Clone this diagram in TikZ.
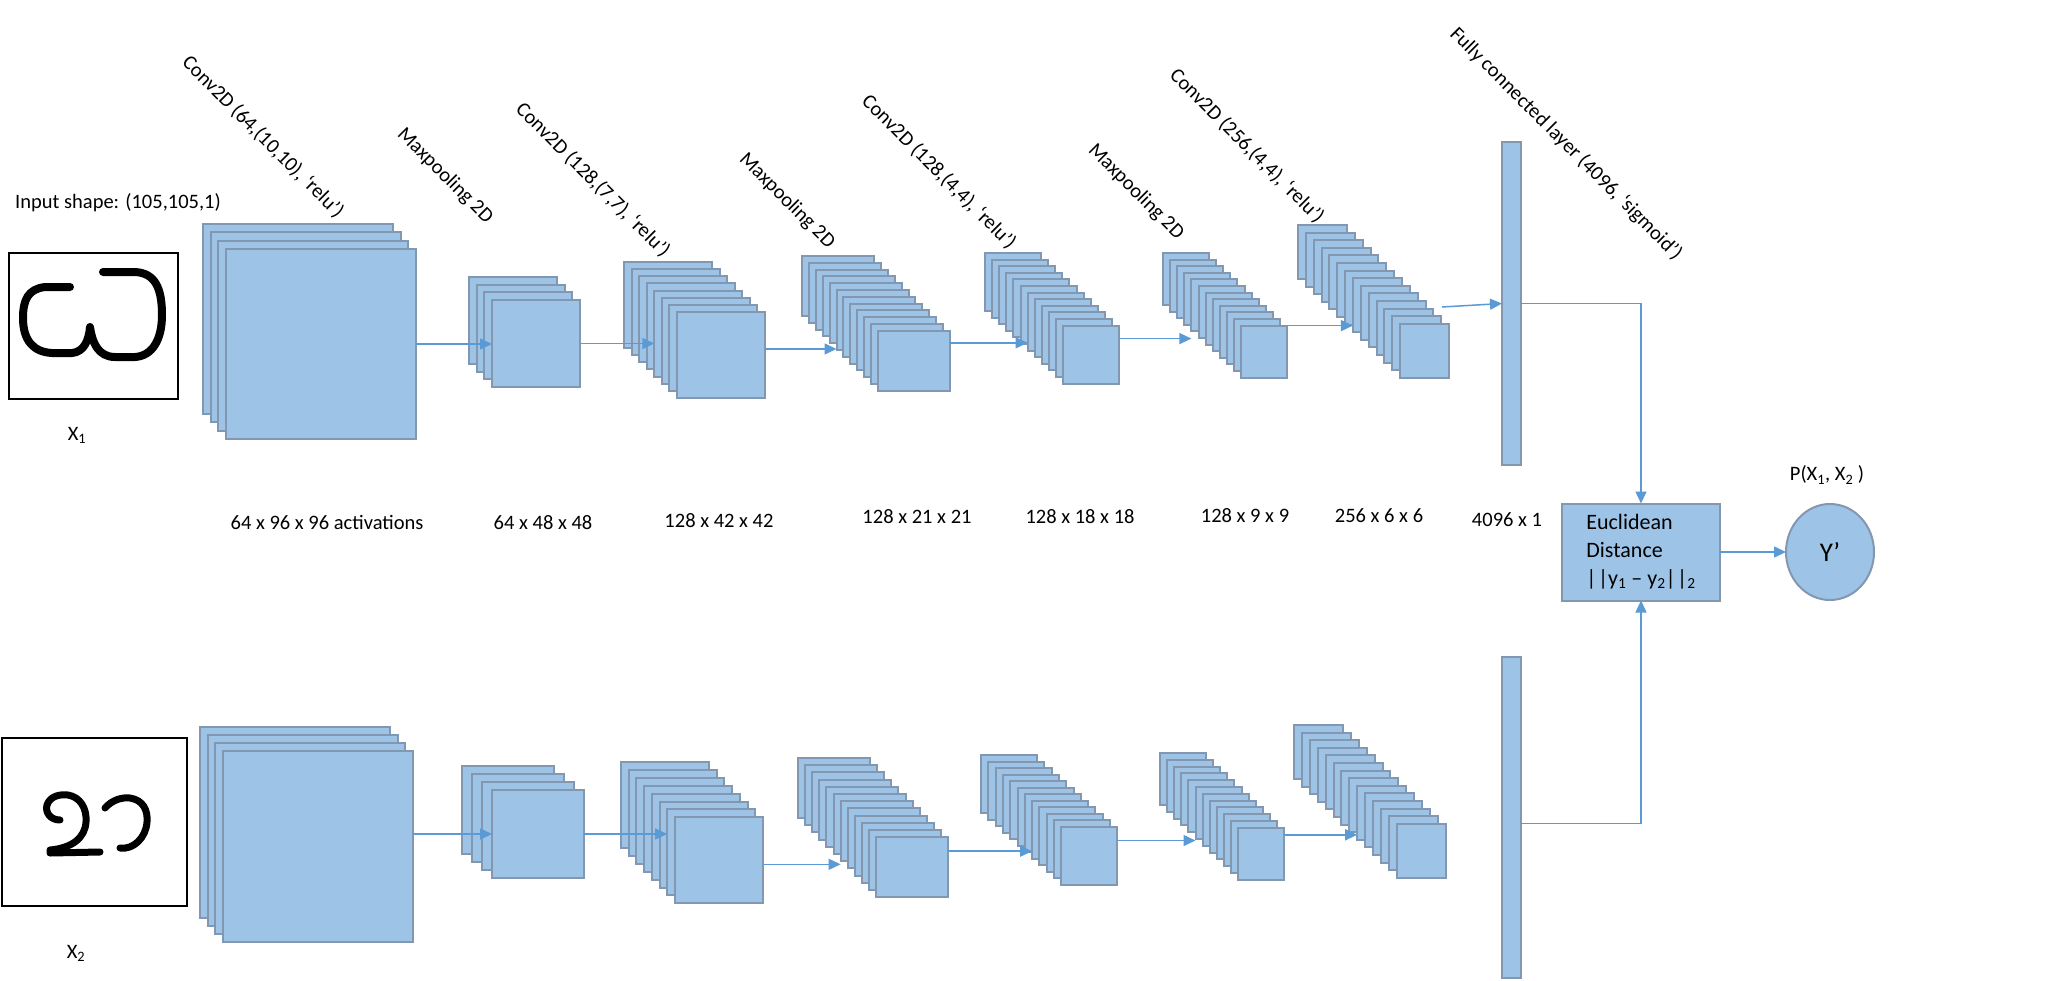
\documentclass[tikz,border=0pt]{standalone}
\usepackage{fontspec}
\setmainfont{Carlito}
\usetikzlibrary{arrows.meta,shapes.geometric}
\definecolor{lfill}{HTML}{9DC3E6}
\definecolor{ledge}{HTML}{8497B0}
\definecolor{aline}{HTML}{5B9BD5}
\newcommand\drawstack[8]{%
  \foreach \i in {1,...,#8}{%
    \node[layer, minimum width=#6, minimum height=#7] (#1l\i) at ({#2+(\i-1)*#4+#6/2},{#3+(\i-1)*#5+#7/2}) {};
  }}
\begin{document}
\begin{tikzpicture}[x=1pt,y=-1pt,
  layer/.style={draw=ledge, fill=lfill, line width=2pt, inner sep=0pt, outer sep=0pt},
  arr/.style={draw=aline, line width=1.5pt, -{Triangle[length=12pt,width=11pt]}},
  conn/.style={draw=aline, line width=1.5pt},
  lab/.style={font=\fontsize{20.5}{25}\selectfont, inner sep=0pt},
  rlab/.style={lab, rotate=-45},
  inbox/.style={draw=black, line width=2.5pt, fill=white, inner sep=0pt},
  glyph/.style={line width=8pt, line cap=round, line join=round}]
\useasboundingbox (0,0) rectangle (2071,980);
\fill[white] (0,0) rectangle (2071,980);

% ---------- inputs ----------
\node[inbox, minimum width=169, minimum height=146] (in1) at (93.5,326) {};
\node[inbox, minimum width=185, minimum height=168] (in2) at (94.5,822) {};
\draw[glyph] (70,287) -- (45,287) .. controls (28,289) and (23,300) .. (23,318)
  .. controls (23,340) and (33,352) .. (52,353) -- (72,353)
  .. controls (84,352) and (89,340) .. (90,327)
  .. controls (92,342) and (98,357) .. (115,357) -- (135,357)
  .. controls (152,356) and (162,340) .. (162,315)
  .. controls (162,288) and (155,273) .. (135,272) -- (103,272);
\draw[glyph, line width=7pt] (60,820) .. controls (50,820) and (45,812) .. (47,805)
  .. controls (50,796) and (60,794) .. (68,795)
  .. controls (80,797) and (87,808) .. (86,822)
  .. controls (85,838) and (72,848) .. (50,850) -- (50,853) -- (100,852);
\draw[glyph, line width=7pt] (105,808) .. controls (112,800) and (122,797) .. (130,798)
  .. controls (143,800) and (148,810) .. (147,822)
  .. controls (146,838) and (133,850) .. (120,848);
\node[lab, anchor=west] (inshape) at (15,203) {Input shape: (105,105,1)};
\node[lab] (x1) at (77,435) {X\textsubscript{1}};
\node[lab] (x2) at (76,953) {X\textsubscript{2}};

% ---------- top branch ----------
\drawstack{s1}{203}{224}{7.67}{8.33}{190}{190}{4}
\drawstack{s2}{469}{277}{7.67}{7.67}{88}{87}{4}
\drawstack{s3}{624}{262}{7.57}{7.14}{88}{86}{8}
\drawstack{s4}{802}{256}{6.9}{6.8}{72}{60}{12}
\drawstack{s5}{985}{253}{7.1}{6.6}{56}{58}{12}
\drawstack{s6}{1163}{253}{7.1}{6.6}{46}{52}{12}
\drawstack{s7}{1298}{225}{7.85}{7.6}{49}{54}{14}
\node[layer, minimum width=19, minimum height=323] (fc1) at (1511.5,303.5) {};

\draw[arr] (s1l4.east) -- (s1l4.east -| s2l4.west);
\draw[arr] (s2l4.east) -- (s2l4.east -| s3l5.west);
\draw[arr] ([yshift=6pt]s3l8.east) -- ([yshift=6pt]s3l8.east -| s4l6.west);
\draw[arr] ([yshift=18pt]s4l12.east) -- ([yshift=18pt]s4l12.east -| s5l7.west);
\draw[arr] ([yshift=16pt]s5l12.east) -- ([yshift=16pt]s5l12.east -| s6l5.west);
\draw[arr] ([yshift=26pt]s6l12.east) -- ([yshift=26pt]s6l12.east -| s7l8.west);
\coordinate (a7) at (1442,307);
\draw[arr] (a7) -- (fc1.west);

% ---------- bottom branch ----------
\drawstack{b1}{200}{727}{7.67}{8}{190}{191}{4}
\drawstack{b2}{462}{766}{10}{8}{92}{88}{4}
\drawstack{b3}{621}{762}{7.7}{7.9}{88}{86}{8}
\drawstack{b4}{798}{758}{7.1}{7.2}{72}{60}{12}
\drawstack{b5}{981}{755}{7.3}{6.5}{56}{58}{12}
\drawstack{b6}{1160}{753}{7.1}{6.8}{46}{52}{12}
\drawstack{b7}{1294}{725}{7.9}{7.6}{49}{54}{14}
\node[layer, minimum width=19, minimum height=321] (fc2) at (1511.5,817.5) {};

\draw[arr] (b1l4.east |- b2l4.west) -- (b2l4.west);
\draw[arr] (b2l4.east) -- (b2l4.east -| b3l7.west);
\draw[arr] ([yshift=-4pt]b3l8.east) -- ([yshift=-4pt]b3l8.east -| b4l7.west);
\draw[arr] ([yshift=16pt]b4l12.east) -- ([yshift=16pt]b4l12.east -| b5l8.west);
\draw[arr] ([yshift=15pt]b5l12.east) -- ([yshift=15pt]b5l12.east -| b6l6.west);
\draw[arr] ([yshift=19pt]b6l12.east) -- ([yshift=19pt]b6l12.east -| b7l9.west);

% ---------- head ----------
\node[layer, minimum width=158, minimum height=97, align=left,
      font=\fontsize{22}{28}\selectfont] (euc) at (1641,552)
  {Euclidean\\Distance\\{|\kern1.5pt|y\textsubscript{1} – y\textsubscript{2}|\kern1.5pt|\textsubscript{2}}};
\node[layer, ellipse, minimum width=88, minimum height=96,
      font=\fontsize{27}{30}\selectfont] (yout) at (1830,552) {Y’};
\node[lab] (pl) at (1827,475) {P(X\textsubscript{1}, X\textsubscript{2} )};

\draw[arr] (fc1.east) -| (euc.north);
\draw[arr] ([yshift=-6pt]fc2.east) -| (euc.south);
\draw[arr] (euc.east) -- (yout.west);

% ---------- labels ----------
\node[rlab] (l1) at (263,137) {Conv2D (64,(10,10), ‘relu’)};
\node[rlab] (l2) at (445,176) {Maxpooling 2D};
\node[rlab] (l3) at (593,180) {Conv2D (128,(7,7), ‘relu’)};
\node[rlab] (l4) at (787,201) {Maxpooling 2D};
\node[rlab] (l5) at (939,172) {Conv2D (128,(4,4), ‘relu’)};
\node[rlab] (l6) at (1136,192) {Maxpooling 2D};
\node[rlab] (l7) at (1247,146) {Conv2D (256,(4,4), ‘relu’)};
\node[rlab] (l8) at (1566,144) {Fully connected layer (4096, ‘sigmoid’)};

\node[lab] (d1) at (327,522) {64 x 96 x 96 activations};
\node[lab] (d2) at (543,523) {64 x 48 x 48};
\node[lab] (d3) at (719,521) {128 x 42 x 42};
\node[lab] (d4) at (917,517) {128 x 21 x 21};
\node[lab] (d5) at (1080,517) {128 x 18 x 18};
\node[lab] (d6) at (1245,516) {128 x 9 x 9};
\node[lab] (d7) at (1379,516) {256 x 6 x 6};
\node[lab] (d8) at (1507,520) {4096 x 1};
\end{tikzpicture}
\end{document}
